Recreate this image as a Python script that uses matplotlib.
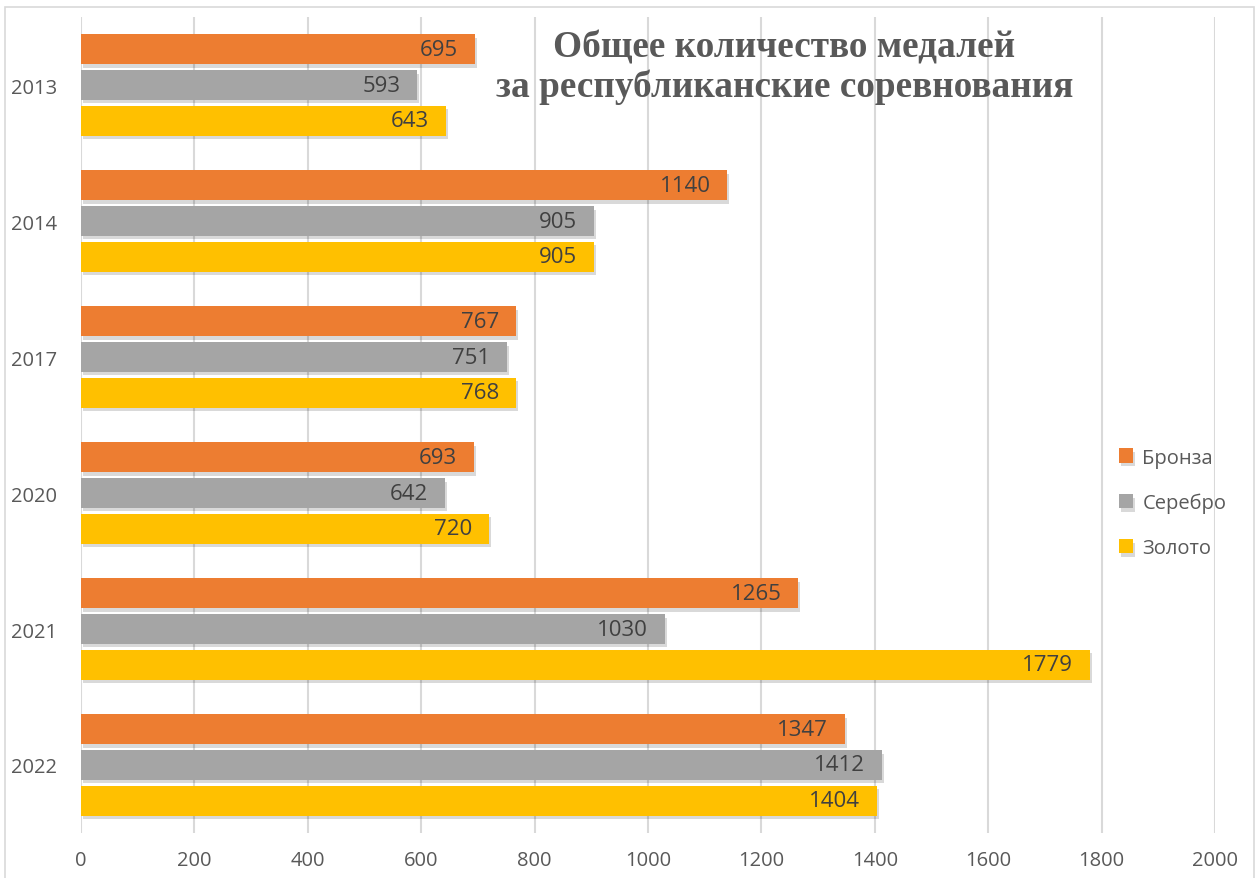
import matplotlib.pyplot as plt
import matplotlib.patheffects as pe
import numpy as np

years = ["2013", "2014", "2017", "2020", "2021", "2022"]
bronze = [695, 1140, 767, 693, 1265, 1347]
silver = [593, 905, 751, 642, 1030, 1412]
gold = [643, 905, 768, 720, 1779, 1404]
series_names = ["Бронза", "Серебро", "Золото"]
colors = ["#ED7D31", "#A5A5A5", "#FFC000"]
title = "Общее количество медалей\nза республиканские соревнования"

plt.rcParams['font.family'] = ['Open Sans', 'DejaVu Sans']
txt = "#595959"

fig = plt.figure(figsize=(12.59, 8.79), dpi=100)
ax = fig.add_axes([0.0643, 0.0512, 0.9007, 0.9283])

y = np.arange(len(years))
h = 0.22
step = 0.262
shadow = [pe.SimplePatchShadow(offset=(1.5, -2.5), shadow_rgbFace="#000000", alpha=0.15), pe.Normal()]
for k, (vals, name, c) in enumerate(zip([bronze, silver, gold], series_names, colors)):
    pos = y + (k - 1) * step
    bars = ax.barh(pos, vals, height=h, color=c, label=name, zorder=3)
    for b in bars:
        b.set_path_effects(shadow)
    for v, p in zip(vals, pos):
        ax.annotate(str(v), (v, p), xytext=(-12, 0), textcoords='offset points',
                    ha='right', va='center', color="#404040", fontsize=16, zorder=4)

ax.set_xlim(0, 2000)
ax.set_ylim(len(years) - 0.5, -0.5)
ax.set_xticks(range(0, 2001, 200))
ax.set_yticks(y)
ax.set_yticklabels(years)
ax.tick_params(axis='both', length=0, labelsize=14.5, colors=txt)
ax.tick_params(axis='x', pad=12)
ax.tick_params(axis='y', pad=17)
ax.grid(axis='x', color="#D9D9D9", linewidth=1.5, zorder=0)
for s in ax.spines.values():
    s.set_visible(False)

fig.text(0.623, 0.923, title, ha='center', va='center', fontsize=26.8, fontweight='bold',
         color=txt, family=['Liberation Serif', 'DejaVu Serif'], linespacing=1.15)

leg = ax.legend(loc='center left', bbox_to_anchor=(1101 / 1259, 1 - 504 / 879),
                bbox_transform=fig.transFigure, frameon=False, fontsize=14.5,
                handlelength=0.7, handleheight=0.7, handletextpad=0.45, labelspacing=1.25)
for t in leg.get_texts():
    t.set_color(txt)

fig.patches.append(plt.Rectangle((5 / 1259, -0.01), 1 - 10 / 1259, 1 - 8 / 879 + 0.01,
                                 transform=fig.transFigure, fill=False,
                                 edgecolor="#D9D9D9", linewidth=1.2))

fig.savefig("out.png", dpi=100)
